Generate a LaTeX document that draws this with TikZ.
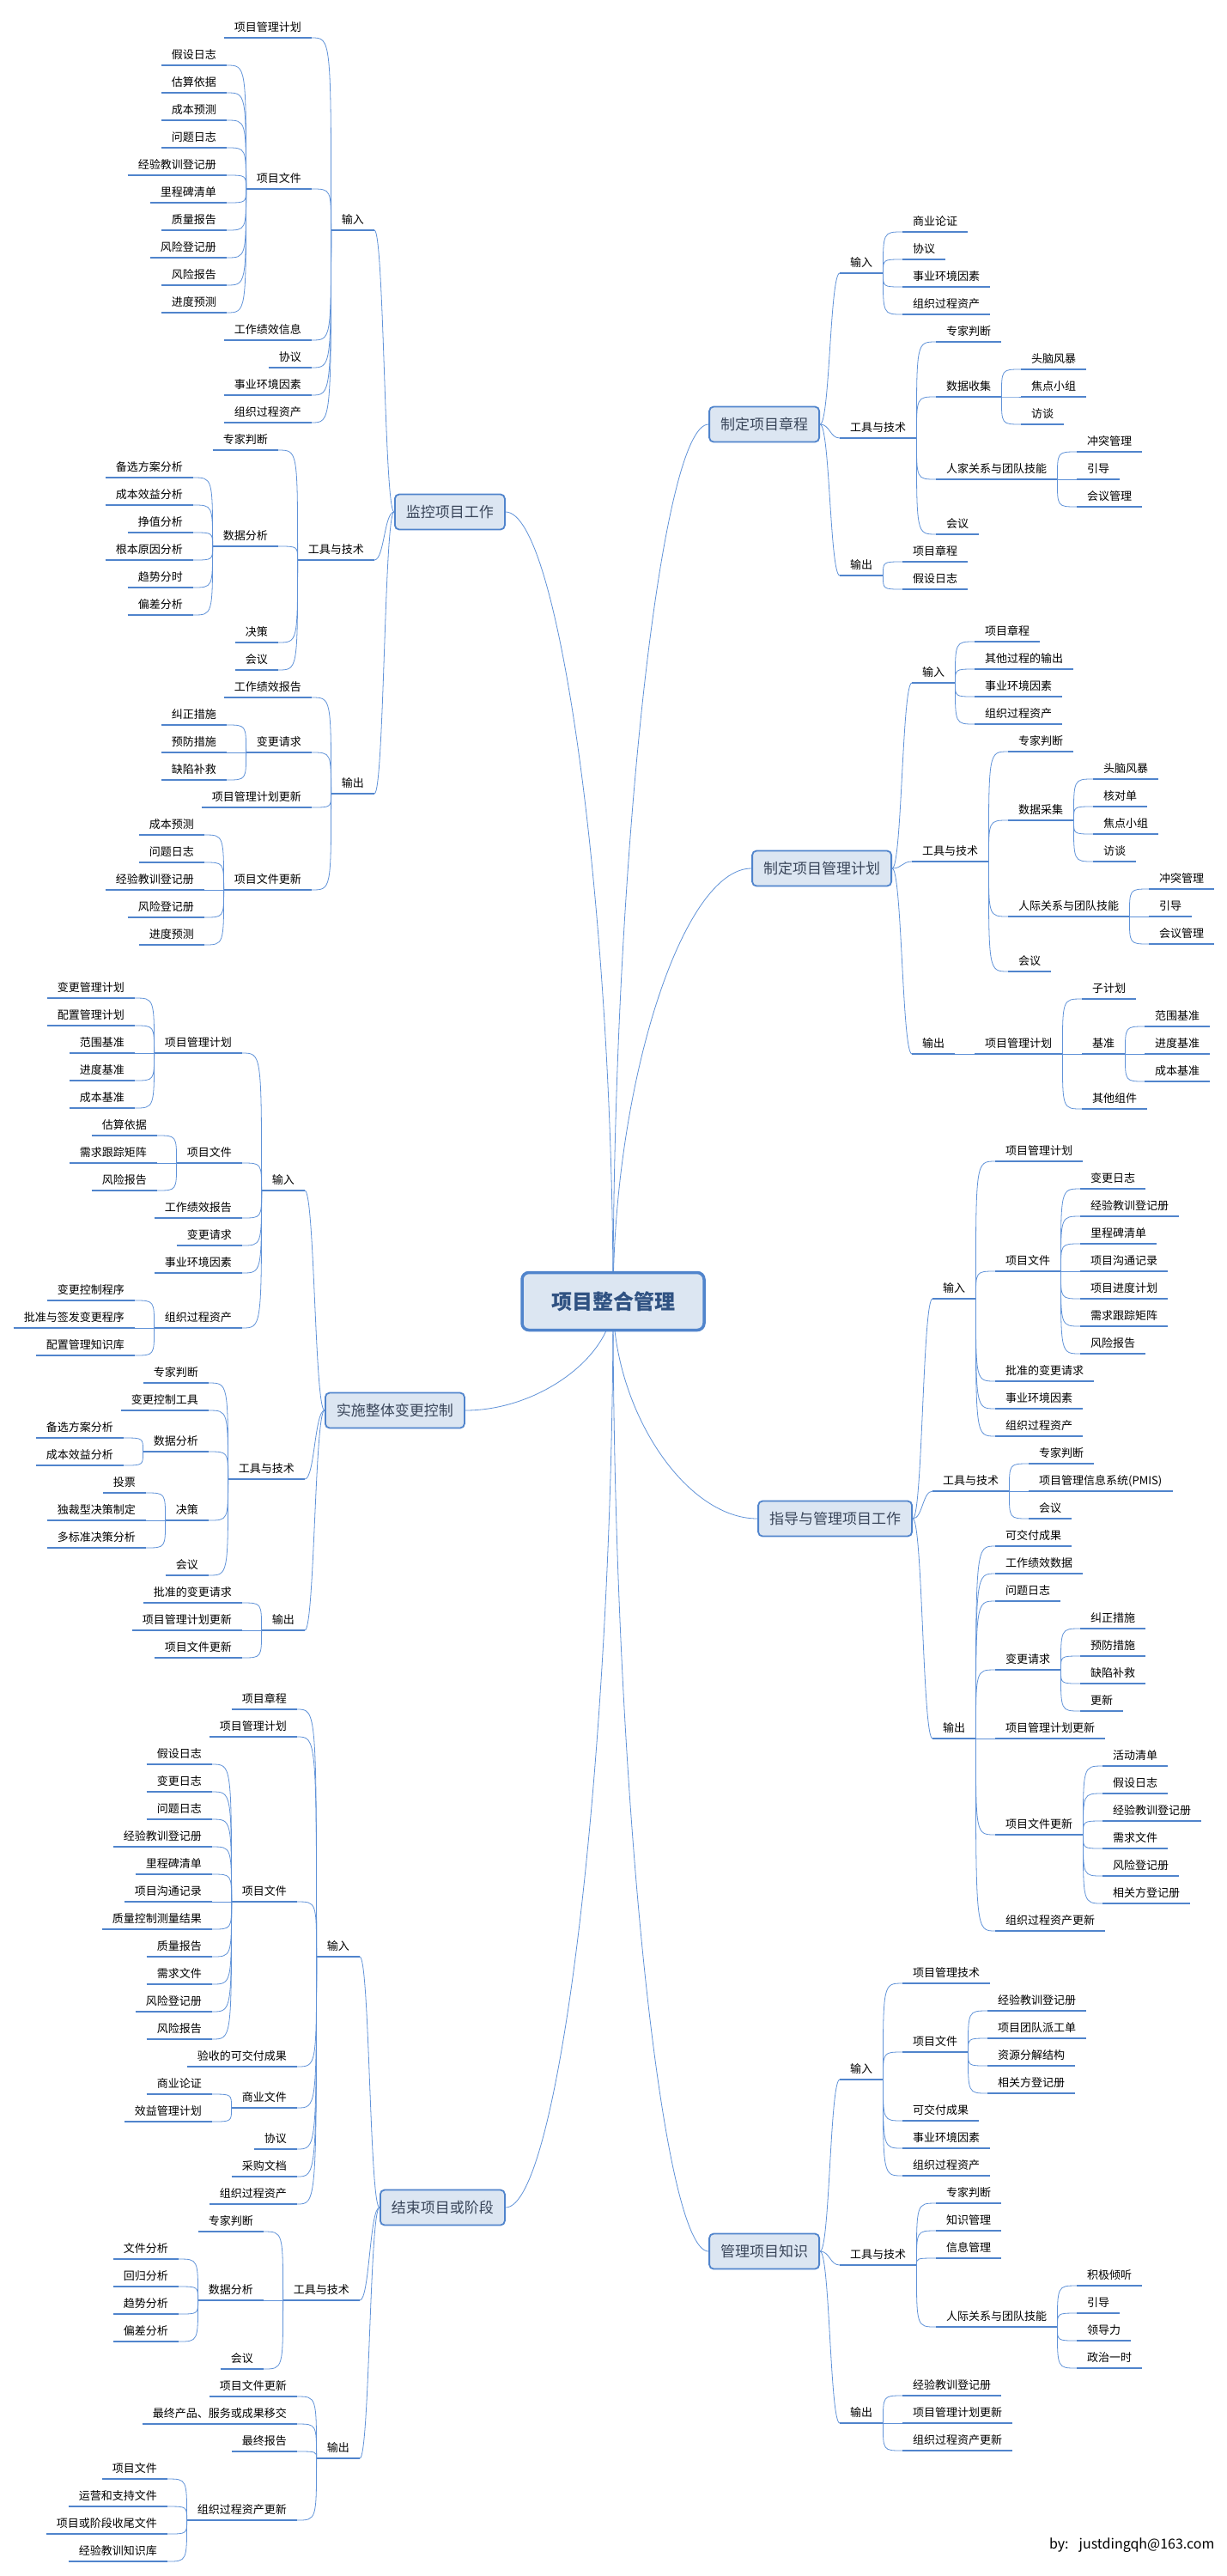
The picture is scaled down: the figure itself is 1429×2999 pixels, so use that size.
\documentclass[tikz,border=0pt]{standalone}
\usepackage{fontspec}
\setmainfont{Noto Sans CJK SC}
\usepackage{tikz}
\usetikzlibrary{calc,backgrounds}
\definecolor{ulinec}{RGB}{80,132,204}
\definecolor{linkc}{RGB}{96,146,216}
\definecolor{boxfill}{RGB}{220,230,242}
\definecolor{boxline}{RGB}{80,132,204}
\definecolor{boxtext}{RGB}{58,70,90}
\definecolor{coretext}{RGB}{48,82,130}

\begin{document}
\begin{tikzpicture}[x=1pt,y=-1pt,
    topic/.style={font=\fontsize{13}{15}\selectfont, inner xsep=12pt, inner ysep=5pt,
      text height=11pt, text depth=2pt,
      append after command={(\tikzlastnode.south west) edge[uline] (\tikzlastnode.south east)}},
    lt/.style={topic, anchor=south east},
    rt/.style={topic, anchor=south west},
    uline/.style={draw=ulinec, line width=2.4pt, to path={-- (\tikztotarget)}},
    link/.style={draw=linkc, line width=0.8pt,
      to path={.. controls (\tikztostart |- \tikztotarget) .. (\tikztotarget)}},
    blink/.style={draw=linkc, line width=0.8pt,
      to path={.. controls ($(\tikztostart)!.5!(\tikztotarget |- \tikztostart)$)
        and ($(\tikztotarget)!.5!(\tikztostart |- \tikztotarget)$) .. (\tikztotarget)}},
    clink/.style={draw=linkc, line width=0.8pt,
      to path={.. controls ($(\tikztostart)!.5!(\tikztostart |- \tikztotarget)$)
        and ($(\tikztotarget)!.5!(\tikztostart |- \tikztotarget)$) .. (\tikztotarget)}},
    every edge/.style={link},
    mainbox/.style={draw=boxline, fill=boxfill, line width=1.8pt, rounded corners=5pt,
      inner xsep=13pt, inner ysep=0pt, minimum height=41pt, text=boxtext,
      font=\fontsize{17}{20}\selectfont},
    core/.style={draw=boxline, fill=boxfill, line width=3.5pt, rounded corners=8pt,
      inner xsep=34pt, inner ysep=0pt, minimum height=67pt, text=coretext,
      font=\fontsize{24}{28}\selectfont\bfseries}]
  \begin{scope}[on background layer]
    \fill[white] (0,0) rectangle (1429,2999);
  \end{scope}
  \useasboundingbox (0,0) rectangle (1429,2999);
  %
  \node[core] (core) at (714,1515) {项目整合管理};
  %
  % 监控项目工作
  \node[mainbox, anchor=west] (mon) at (459,596) {监控项目工作};
  \node[lt] (mon-i) at (436,268) {输入};
  \node[lt] (mon-t) at (436,652) {工具与技术};
  \node[lt] (mon-o) at (436,924) {输出};
  \node[lt] (mon-i1) at (363,44) {项目管理计划};
  \node[lt] (mon-i2) at (363,220) {项目文件};
  \node[lt] (mon-i3) at (363,396) {工作绩效信息};
  \node[lt] (mon-i4) at (363,428) {协议};
  \node[lt] (mon-i5) at (363,460) {事业环境因素};
  \node[lt] (mon-i6) at (363,492) {组织过程资产};
  \node[lt] (mon-i2-1) at (264,76) {假设日志};
  \node[lt] (mon-i2-2) at (264,108) {估算依据};
  \node[lt] (mon-i2-3) at (264,140) {成本预测};
  \node[lt] (mon-i2-4) at (264,172) {问题日志};
  \node[lt] (mon-i2-5) at (264,204) {经验教训登记册};
  \node[lt] (mon-i2-6) at (264,236) {里程碑清单};
  \node[lt] (mon-i2-7) at (264,268) {质量报告};
  \node[lt] (mon-i2-8) at (264,300) {风险登记册};
  \node[lt] (mon-i2-9) at (264,332) {风险报告};
  \node[lt] (mon-i2-10) at (264,364) {进度预测};
  \node[lt] (mon-t1) at (324,524) {专家判断};
  \node[lt] (mon-t2) at (324,636) {数据分析};
  \node[lt] (mon-t3) at (324,748) {决策};
  \node[lt] (mon-t4) at (324,780) {会议};
  \node[lt] (mon-t2-1) at (225,556) {备选方案分析};
  \node[lt] (mon-t2-2) at (225,588) {成本效益分析};
  \node[lt] (mon-t2-3) at (225,620) {挣值分析};
  \node[lt] (mon-t2-4) at (225,652) {根本原因分析};
  \node[lt] (mon-t2-5) at (225,684) {趋势分时};
  \node[lt] (mon-t2-6) at (225,716) {偏差分析};
  \node[lt] (mon-o1) at (363,812) {工作绩效报告};
  \node[lt] (mon-o2) at (363,876) {变更请求};
  \node[lt] (mon-o3) at (363,940) {项目管理计划更新};
  \node[lt] (mon-o4) at (363,1036) {项目文件更新};
  \node[lt] (mon-o2-1) at (264,844) {纠正措施};
  \node[lt] (mon-o2-2) at (264,876) {预防措施};
  \node[lt] (mon-o2-3) at (264,908) {缺陷补救};
  \node[lt] (mon-o4-1) at (238,972) {成本预测};
  \node[lt] (mon-o4-2) at (238,1004) {问题日志};
  \node[lt] (mon-o4-3) at (238,1036) {经验教训登记册};
  \node[lt] (mon-o4-4) at (238,1068) {风险登记册};
  \node[lt] (mon-o4-5) at (238,1100) {进度预测};
  \path (mon.west) edge[blink] (mon-i.south east) edge[blink] (mon-t.south east) edge[blink] (mon-o.south east);
  \path (mon-i.south west) edge (mon-i1.south east) edge (mon-i2.south east) edge (mon-i3.south east)
    edge (mon-i4.south east) edge (mon-i5.south east) edge (mon-i6.south east);
  \path (mon-i2.south west) edge (mon-i2-1.south east) edge (mon-i2-2.south east) edge (mon-i2-3.south east)
    edge (mon-i2-4.south east) edge (mon-i2-5.south east) edge (mon-i2-6.south east) edge (mon-i2-7.south east)
    edge (mon-i2-8.south east) edge (mon-i2-9.south east) edge (mon-i2-10.south east);
  \path (mon-t.south west) edge (mon-t1.south east) edge (mon-t2.south east) edge (mon-t3.south east) edge (mon-t4.south east);
  \path (mon-t2.south west) edge (mon-t2-1.south east) edge (mon-t2-2.south east) edge (mon-t2-3.south east)
    edge (mon-t2-4.south east) edge (mon-t2-5.south east) edge (mon-t2-6.south east);
  \path (mon-o.south west) edge (mon-o1.south east) edge (mon-o2.south east) edge (mon-o3.south east) edge (mon-o4.south east);
  \path (mon-o2.south west) edge (mon-o2-1.south east) edge (mon-o2-2.south east) edge (mon-o2-3.south east);
  \path (mon-o4.south west) edge (mon-o4-1.south east) edge (mon-o4-2.south east) edge (mon-o4-3.south east)
    edge (mon-o4-4.south east) edge (mon-o4-5.south east);
  %
  % 实施整体变更控制
  \node[mainbox, anchor=west] (icc) at (378,1642) {实施整体变更控制};
  \node[lt] (icc-i) at (355,1386) {输入};
  \node[lt] (icc-t) at (355,1722) {工具与技术};
  \node[lt] (icc-o) at (355,1898) {输出};
  \node[lt] (icc-i1) at (282,1226) {项目管理计划};
  \node[lt] (icc-i2) at (282,1354) {项目文件};
  \node[lt] (icc-i3) at (282,1418) {工作绩效报告};
  \node[lt] (icc-i4) at (282,1450) {变更请求};
  \node[lt] (icc-i5) at (282,1482) {事业环境因素};
  \node[lt] (icc-i6) at (282,1546) {组织过程资产};
  \node[lt] (icc-i1-1) at (157,1162) {变更管理计划};
  \node[lt] (icc-i1-2) at (157,1194) {配置管理计划};
  \node[lt] (icc-i1-3) at (157,1226) {范围基准};
  \node[lt] (icc-i1-4) at (157,1258) {进度基准};
  \node[lt] (icc-i1-5) at (157,1290) {成本基准};
  \node[lt] (icc-i2-1) at (183,1322) {估算依据};
  \node[lt] (icc-i2-2) at (183,1354) {需求跟踪矩阵};
  \node[lt] (icc-i2-3) at (183,1386) {风险报告};
  \node[lt] (icc-i6-1) at (157,1514) {变更控制程序};
  \node[lt] (icc-i6-2) at (157,1546) {批准与签发变更程序};
  \node[lt] (icc-i6-3) at (157,1578) {配置管理知识库};
  \node[lt] (icc-t1) at (243,1610) {专家判断};
  \node[lt] (icc-t2) at (243,1642) {变更控制工具};
  \node[lt] (icc-t3) at (243,1690) {数据分析};
  \node[lt] (icc-t4) at (243,1770) {决策};
  \node[lt] (icc-t5) at (243,1834) {会议};
  \node[lt] (icc-t3-1) at (144,1674) {备选方案分析};
  \node[lt] (icc-t3-2) at (144,1706) {成本效益分析};
  \node[lt] (icc-t4-1) at (170,1738) {投票};
  \node[lt] (icc-t4-2) at (170,1770) {独裁型决策制定};
  \node[lt] (icc-t4-3) at (170,1802) {多标准决策分析};
  \node[lt] (icc-o1) at (282,1866) {批准的变更请求};
  \node[lt] (icc-o2) at (282,1898) {项目管理计划更新};
  \node[lt] (icc-o3) at (282,1930) {项目文件更新};
  \path (icc.west) edge[blink] (icc-i.south east) edge[blink] (icc-t.south east) edge[blink] (icc-o.south east);
  \path (icc-i.south west) edge (icc-i1.south east) edge (icc-i2.south east) edge (icc-i3.south east)
    edge (icc-i4.south east) edge (icc-i5.south east) edge (icc-i6.south east);
  \path (icc-i1.south west) edge (icc-i1-1.south east) edge (icc-i1-2.south east) edge (icc-i1-3.south east)
    edge (icc-i1-4.south east) edge (icc-i1-5.south east);
  \path (icc-i2.south west) edge (icc-i2-1.south east) edge (icc-i2-2.south east) edge (icc-i2-3.south east);
  \path (icc-i6.south west) edge (icc-i6-1.south east) edge (icc-i6-2.south east) edge (icc-i6-3.south east);
  \path (icc-t.south west) edge (icc-t1.south east) edge (icc-t2.south east) edge (icc-t3.south east)
    edge (icc-t4.south east) edge (icc-t5.south east);
  \path (icc-t3.south west) edge (icc-t3-1.south east) edge (icc-t3-2.south east);
  \path (icc-t4.south west) edge (icc-t4-1.south east) edge (icc-t4-2.south east) edge (icc-t4-3.south east);
  \path (icc-o.south west) edge (icc-o1.south east) edge (icc-o2.south east) edge (icc-o3.south east);
  %
  % 结束项目或阶段
  \node[mainbox, anchor=west] (close) at (442,2570) {结束项目或阶段};
  \node[lt] (close-i) at (419,2278) {输入};
  \node[lt] (close-t) at (419,2678) {工具与技术};
  \node[lt] (close-o) at (419,2862) {输出};
  \node[lt] (close-i1) at (346,1990) {项目章程};
  \node[lt] (close-i2) at (346,2022) {项目管理计划};
  \node[lt] (close-i3) at (346,2214) {项目文件};
  \node[lt] (close-i4) at (346,2406) {验收的可交付成果};
  \node[lt] (close-i5) at (346,2454) {商业文件};
  \node[lt] (close-i6) at (346,2502) {协议};
  \node[lt] (close-i7) at (346,2534) {采购文档};
  \node[lt] (close-i8) at (346,2566) {组织过程资产};
  \node[lt] (close-i3-1) at (247,2054) {假设日志};
  \node[lt] (close-i3-2) at (247,2086) {变更日志};
  \node[lt] (close-i3-3) at (247,2118) {问题日志};
  \node[lt] (close-i3-4) at (247,2150) {经验教训登记册};
  \node[lt] (close-i3-5) at (247,2182) {里程碑清单};
  \node[lt] (close-i3-6) at (247,2214) {项目沟通记录};
  \node[lt] (close-i3-7) at (247,2246) {质量控制测量结果};
  \node[lt] (close-i3-8) at (247,2278) {质量报告};
  \node[lt] (close-i3-9) at (247,2310) {需求文件};
  \node[lt] (close-i3-10) at (247,2342) {风险登记册};
  \node[lt] (close-i3-11) at (247,2374) {风险报告};
  \node[lt] (close-i5-1) at (247,2438) {商业论证};
  \node[lt] (close-i5-2) at (247,2470) {效益管理计划};
  \node[lt] (close-t1) at (307,2598) {专家判断};
  \node[lt] (close-t2) at (307,2678) {数据分析};
  \node[lt] (close-t3) at (307,2758) {会议};
  \node[lt] (close-t2-1) at (208,2630) {文件分析};
  \node[lt] (close-t2-2) at (208,2662) {回归分析};
  \node[lt] (close-t2-3) at (208,2694) {趋势分析};
  \node[lt] (close-t2-4) at (208,2726) {偏差分析};
  \node[lt] (close-o1) at (346,2790) {项目文件更新};
  \node[lt] (close-o2) at (346,2822) {最终产品、服务或成果移交};
  \node[lt] (close-o3) at (346,2854) {最终报告};
  \node[lt] (close-o4) at (346,2934) {组织过程资产更新};
  \node[lt] (close-o4-1) at (195,2886) {项目文件};
  \node[lt] (close-o4-2) at (195,2918) {运营和支持文件};
  \node[lt] (close-o4-3) at (195,2950) {项目或阶段收尾文件};
  \node[lt] (close-o4-4) at (195,2982) {经验教训知识库};
  \path (close.west) edge[blink] (close-i.south east) edge[blink] (close-t.south east) edge[blink] (close-o.south east);
  \path (close-i.south west) edge (close-i1.south east) edge (close-i2.south east) edge (close-i3.south east)
    edge (close-i4.south east) edge (close-i5.south east) edge (close-i6.south east) edge (close-i7.south east)
    edge (close-i8.south east);
  \path (close-i3.south west) edge (close-i3-1.south east) edge (close-i3-2.south east) edge (close-i3-3.south east)
    edge (close-i3-4.south east) edge (close-i3-5.south east) edge (close-i3-6.south east) edge (close-i3-7.south east)
    edge (close-i3-8.south east) edge (close-i3-9.south east) edge (close-i3-10.south east) edge (close-i3-11.south east);
  \path (close-i5.south west) edge (close-i5-1.south east) edge (close-i5-2.south east);
  \path (close-t.south west) edge (close-t1.south east) edge (close-t2.south east) edge (close-t3.south east);
  \path (close-t2.south west) edge (close-t2-1.south east) edge (close-t2-2.south east) edge (close-t2-3.south east)
    edge (close-t2-4.south east);
  \path (close-o.south west) edge (close-o1.south east) edge (close-o2.south east) edge (close-o3.south east)
    edge (close-o4.south east);
  \path (close-o4.south west) edge (close-o4-1.south east) edge (close-o4-2.south east) edge (close-o4-3.south east)
    edge (close-o4-4.south east);
  %
  % 制定项目章程
  \node[mainbox, anchor=east] (charter) at (955,494) {制定项目章程};
  \node[rt] (charter-i) at (978,318) {输入};
  \node[rt] (charter-t) at (978,510) {工具与技术};
  \node[rt] (charter-o) at (978,670) {输出};
  \node[rt] (charter-i1) at (1051,270) {商业论证};
  \node[rt] (charter-i2) at (1051,302) {协议};
  \node[rt] (charter-i3) at (1051,334) {事业环境因素};
  \node[rt] (charter-i4) at (1051,366) {组织过程资产};
  \node[rt] (charter-t1) at (1090,398) {专家判断};
  \node[rt] (charter-t2) at (1090,462) {数据收集};
  \node[rt] (charter-t3) at (1090,558) {人家关系与团队技能};
  \node[rt] (charter-t4) at (1090,622) {会议};
  \node[rt] (charter-t2-1) at (1189,430) {头脑风暴};
  \node[rt] (charter-t2-2) at (1189,462) {焦点小组};
  \node[rt] (charter-t2-3) at (1189,494) {访谈};
  \node[rt] (charter-t3-1) at (1254,526) {冲突管理};
  \node[rt] (charter-t3-2) at (1254,558) {引导};
  \node[rt] (charter-t3-3) at (1254,590) {会议管理};
  \node[rt] (charter-o1) at (1051,654) {项目章程};
  \node[rt] (charter-o2) at (1051,686) {假设日志};
  \path (charter.east) edge[blink] (charter-i.south west) edge[blink] (charter-t.south west) edge[blink] (charter-o.south west);
  \path (charter-i.south east) edge (charter-i1.south west) edge (charter-i2.south west) edge (charter-i3.south west)
    edge (charter-i4.south west);
  \path (charter-t.south east) edge (charter-t1.south west) edge (charter-t2.south west) edge (charter-t3.south west)
    edge (charter-t4.south west);
  \path (charter-t2.south east) edge (charter-t2-1.south west) edge (charter-t2-2.south west) edge (charter-t2-3.south west);
  \path (charter-t3.south east) edge (charter-t3-1.south west) edge (charter-t3-2.south west) edge (charter-t3-3.south west);
  \path (charter-o.south east) edge (charter-o1.south west) edge (charter-o2.south west);
  %
  % 制定项目管理计划
  \node[mainbox, anchor=east] (plan) at (1039,1011) {制定项目管理计划};
  \node[rt] (plan-i) at (1062,795) {输入};
  \node[rt] (plan-t) at (1062,1003) {工具与技术};
  \node[rt] (plan-o) at (1062,1227) {输出};
  \node[rt] (plan-i1) at (1135,747) {项目章程};
  \node[rt] (plan-i2) at (1135,779) {其他过程的输出};
  \node[rt] (plan-i3) at (1135,811) {事业环境因素};
  \node[rt] (plan-i4) at (1135,843) {组织过程资产};
  \node[rt] (plan-t1) at (1174,875) {专家判断};
  \node[rt] (plan-t2) at (1174,955) {数据采集};
  \node[rt] (plan-t3) at (1174,1067) {人际关系与团队技能};
  \node[rt] (plan-t4) at (1174,1131) {会议};
  \node[rt] (plan-t2-1) at (1273,907) {头脑风暴};
  \node[rt] (plan-t2-2) at (1273,939) {核对单};
  \node[rt] (plan-t2-3) at (1273,971) {焦点小组};
  \node[rt] (plan-t2-4) at (1273,1003) {访谈};
  \node[rt] (plan-t3-1) at (1338,1035) {冲突管理};
  \node[rt] (plan-t3-2) at (1338,1067) {引导};
  \node[rt] (plan-t3-3) at (1338,1099) {会议管理};
  \node[rt] (plan-o1) at (1135,1227) {项目管理计划};
  \node[rt] (plan-o1-1) at (1260,1163) {子计划};
  \node[rt] (plan-o1-2) at (1260,1227) {基准};
  \node[rt] (plan-o1-3) at (1260,1291) {其他组件};
  \node[rt] (plan-o1-2-1) at (1333,1195) {范围基准};
  \node[rt] (plan-o1-2-2) at (1333,1227) {进度基准};
  \node[rt] (plan-o1-2-3) at (1333,1259) {成本基准};
  \path (plan.east) edge[blink] (plan-i.south west) edge[blink] (plan-t.south west) edge[blink] (plan-o.south west);
  \path (plan-i.south east) edge (plan-i1.south west) edge (plan-i2.south west) edge (plan-i3.south west)
    edge (plan-i4.south west);
  \path (plan-t.south east) edge (plan-t1.south west) edge (plan-t2.south west) edge (plan-t3.south west)
    edge (plan-t4.south west);
  \path (plan-t2.south east) edge (plan-t2-1.south west) edge (plan-t2-2.south west) edge (plan-t2-3.south west)
    edge (plan-t2-4.south west);
  \path (plan-t3.south east) edge (plan-t3-1.south west) edge (plan-t3-2.south west) edge (plan-t3-3.south west);
  \path (plan-o.south east) edge (plan-o1.south west);
  \path (plan-o1.south east) edge (plan-o1-1.south west) edge (plan-o1-2.south west) edge (plan-o1-3.south west);
  \path (plan-o1-2.south east) edge (plan-o1-2-1.south west) edge (plan-o1-2-2.south west) edge (plan-o1-2-3.south west);
  %
  % 指导与管理项目工作
  \node[mainbox, anchor=east] (direct) at (1063,1768) {指导与管理项目工作};
  \node[rt] (direct-i) at (1086,1512) {输入};
  \node[rt] (direct-t) at (1086,1736) {工具与技术};
  \node[rt] (direct-o) at (1086,2024) {输出};
  \node[rt] (direct-i1) at (1159,1352) {项目管理计划};
  \node[rt] (direct-i2) at (1159,1480) {项目文件};
  \node[rt] (direct-i3) at (1159,1608) {批准的变更请求};
  \node[rt] (direct-i4) at (1159,1640) {事业环境因素};
  \node[rt] (direct-i5) at (1159,1672) {组织过程资产};
  \node[rt] (direct-i2-1) at (1258,1384) {变更日志};
  \node[rt] (direct-i2-2) at (1258,1416) {经验教训登记册};
  \node[rt] (direct-i2-3) at (1258,1448) {里程碑清单};
  \node[rt] (direct-i2-4) at (1258,1480) {项目沟通记录};
  \node[rt] (direct-i2-5) at (1258,1512) {项目进度计划};
  \node[rt] (direct-i2-6) at (1258,1544) {需求跟踪矩阵};
  \node[rt] (direct-i2-7) at (1258,1576) {风险报告};
  \node[rt] (direct-t1) at (1198,1704) {专家判断};
  \node[rt] (direct-t2) at (1198,1736) {项目管理信息系统(PMIS)};
  \node[rt] (direct-t3) at (1198,1768) {会议};
  \node[rt] (direct-o1) at (1159,1800) {可交付成果};
  \node[rt] (direct-o2) at (1159,1832) {工作绩效数据};
  \node[rt] (direct-o3) at (1159,1864) {问题日志};
  \node[rt] (direct-o4) at (1159,1944) {变更请求};
  \node[rt] (direct-o5) at (1159,2024) {项目管理计划更新};
  \node[rt] (direct-o6) at (1159,2136) {项目文件更新};
  \node[rt] (direct-o7) at (1159,2248) {组织过程资产更新};
  \node[rt] (direct-o4-1) at (1258,1896) {纠正措施};
  \node[rt] (direct-o4-2) at (1258,1928) {预防措施};
  \node[rt] (direct-o4-3) at (1258,1960) {缺陷补救};
  \node[rt] (direct-o4-4) at (1258,1992) {更新};
  \node[rt] (direct-o6-1) at (1284,2056) {活动清单};
  \node[rt] (direct-o6-2) at (1284,2088) {假设日志};
  \node[rt] (direct-o6-3) at (1284,2120) {经验教训登记册};
  \node[rt] (direct-o6-4) at (1284,2152) {需求文件};
  \node[rt] (direct-o6-5) at (1284,2184) {风险登记册};
  \node[rt] (direct-o6-6) at (1284,2216) {相关方登记册};
  \path (direct.east) edge[blink] (direct-i.south west) edge[blink] (direct-t.south west) edge[blink] (direct-o.south west);
  \path (direct-i.south east) edge (direct-i1.south west) edge (direct-i2.south west) edge (direct-i3.south west)
    edge (direct-i4.south west) edge (direct-i5.south west);
  \path (direct-i2.south east) edge (direct-i2-1.south west) edge (direct-i2-2.south west) edge (direct-i2-3.south west)
    edge (direct-i2-4.south west) edge (direct-i2-5.south west) edge (direct-i2-6.south west) edge (direct-i2-7.south west);
  \path (direct-t.south east) edge (direct-t1.south west) edge (direct-t2.south west) edge (direct-t3.south west);
  \path (direct-o.south east) edge (direct-o1.south west) edge (direct-o2.south west) edge (direct-o3.south west)
    edge (direct-o4.south west) edge (direct-o5.south west) edge (direct-o6.south west) edge (direct-o7.south west);
  \path (direct-o4.south east) edge (direct-o4-1.south west) edge (direct-o4-2.south west) edge (direct-o4-3.south west)
    edge (direct-o4-4.south west);
  \path (direct-o6.south east) edge (direct-o6-1.south west) edge (direct-o6-2.south west) edge (direct-o6-3.south west)
    edge (direct-o6-4.south west) edge (direct-o6-5.south west) edge (direct-o6-6.south west);
  %
  % 管理项目知识
  \node[mainbox, anchor=east] (know) at (955,2621) {管理项目知识};
  \node[rt] (know-i) at (978,2421) {输入};
  \node[rt] (know-t) at (978,2637) {工具与技术};
  \node[rt] (know-o) at (978,2821) {输出};
  \node[rt] (know-i1) at (1051,2309) {项目管理技术};
  \node[rt] (know-i2) at (1051,2389) {项目文件};
  \node[rt] (know-i3) at (1051,2469) {可交付成果};
  \node[rt] (know-i4) at (1051,2501) {事业环境因素};
  \node[rt] (know-i5) at (1051,2533) {组织过程资产};
  \node[rt] (know-i2-1) at (1150,2341) {经验教训登记册};
  \node[rt] (know-i2-2) at (1150,2373) {项目团队派工单};
  \node[rt] (know-i2-3) at (1150,2405) {资源分解结构};
  \node[rt] (know-i2-4) at (1150,2437) {相关方登记册};
  \node[rt] (know-t1) at (1090,2565) {专家判断};
  \node[rt] (know-t2) at (1090,2597) {知识管理};
  \node[rt] (know-t3) at (1090,2629) {信息管理};
  \node[rt] (know-t4) at (1090,2709) {人际关系与团队技能};
  \node[rt] (know-t4-1) at (1254,2661) {积极倾听};
  \node[rt] (know-t4-2) at (1254,2693) {引导};
  \node[rt] (know-t4-3) at (1254,2725) {领导力};
  \node[rt] (know-t4-4) at (1254,2757) {政治一时};
  \node[rt] (know-o1) at (1051,2789) {经验教训登记册};
  \node[rt] (know-o2) at (1051,2821) {项目管理计划更新};
  \node[rt] (know-o3) at (1051,2853) {组织过程资产更新};
  \path (know.east) edge[blink] (know-i.south west) edge[blink] (know-t.south west) edge[blink] (know-o.south west);
  \path (know-i.south east) edge (know-i1.south west) edge (know-i2.south west) edge (know-i3.south west)
    edge (know-i4.south west) edge (know-i5.south west);
  \path (know-i2.south east) edge (know-i2-1.south west) edge (know-i2-2.south west) edge (know-i2-3.south west)
    edge (know-i2-4.south west);
  \path (know-t.south east) edge (know-t1.south west) edge (know-t2.south west) edge (know-t3.south west)
    edge (know-t4.south west);
  \path (know-t4.south east) edge (know-t4-1.south west) edge (know-t4-2.south west) edge (know-t4-3.south west)
    edge (know-t4-4.south west);
  \path (know-o.south east) edge (know-o1.south west) edge (know-o2.south west) edge (know-o3.south west);
  %
  \begin{scope}[on background layer]
    \path (core.center) edge[clink] (mon.east) edge[clink] (icc.east) edge[clink] (close.east)
      edge[clink] (charter.west) edge[clink] (plan.west) edge[clink] (direct.west) edge[clink] (know.west);
  \end{scope}
  %
  \node[anchor=east, font=\fontsize{16}{18}\selectfont] (sign) at (1418,2963) {by:\hspace{12pt}justdingqh@163.com};
\end{tikzpicture}
\end{document}
